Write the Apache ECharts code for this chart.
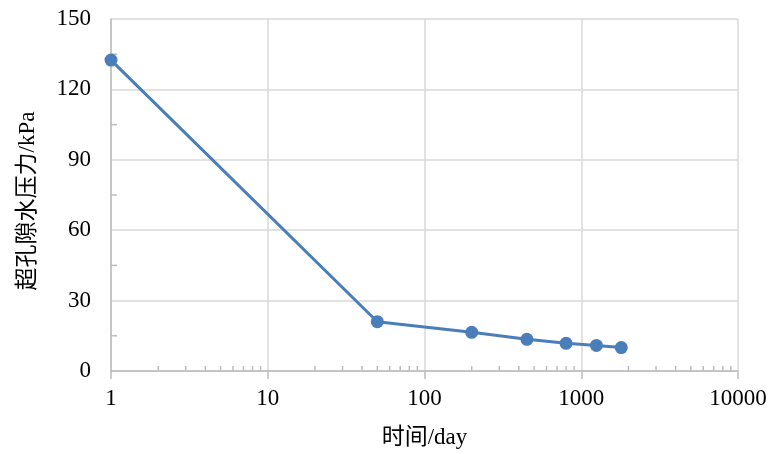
<!DOCTYPE html>
<html>
<head>
<meta charset="utf-8">
<script src="https://cdn.jsdelivr.net/npm/echarts@6/dist/echarts.min.js"></script>
<style>
html,body{margin:0;padding:0;background:#fff;}
#main{width:771px;height:454px;}
</style>
</head>
<body>
<div id="main"></div>
<script>
// 时间 (day) 与 超孔隙水压力 (kPa)
var days = [1, 50, 200, 450, 800, 1250, 1800];
var pressure = [132.5, 21, 16.5, 13.5, 11.8, 10.9, 10];
var minorTickDays = [2,3,4,5,6,7,8,9, 20,30,40,50,60,70,80,90,
  200,300,400,500,600,700,800,900, 2000,3000,4000,5000,6000,7000,8000,9000];
var minorTickKpa = [15, 45, 75, 105, 135];

var font = '"Liberation Serif", "Times New Roman", "Noto Sans CJK SC", serif';
var tickColor = "#bcbcbc";

function tickSeries(data, dx, dy) {
  return {
    type: "custom",
    silent: true,
    clip: false,
    data: data,
    renderItem: function (params, api) {
      var p = api.coord([api.value(0), api.value(1)]);
      return {
        type: "line",
        shape: {x1: p[0], y1: p[1], x2: p[0] + dx, y2: p[1] + dy},
        style: {stroke: tickColor, lineWidth: 1.5}
      };
    },
    z: 3
  };
}

var chart = echarts.init(document.getElementById("main"));
var option = {
  animation: false,
  grid: {left: 111, right: 33, top: 19, bottom: 82, containLabel: false},
  xAxis: {
    type: "log",
    logBase: 10,
    min: 1,
    max: 10000,
    name: "时间/day",
    nameLocation: "middle",
    nameGap: 55,
    nameTextStyle: {fontFamily: font, fontSize: 23, color: "#000"},
    axisLine: {lineStyle: {color: tickColor, width: 1.5}},
    axisTick: {show: true, length: 8, lineStyle: {color: tickColor, width: 1.5}},
    axisLabel: {
      fontFamily: font, fontSize: 23, color: "#000", margin: 16,
      formatter: function (v) { return String(Math.round(v)); }
    },
    splitLine: {show: true, lineStyle: {color: "#d9d9d9", width: 1.5}},
    minorTick: {show: false}
  },
  yAxis: {
    type: "value",
    min: 0,
    max: 150,
    interval: 30,
    name: "超孔隙水压力/kPa",
    nameLocation: "middle",
    nameGap: 72,
    nameTextStyle: {fontFamily: font, fontSize: 23, color: "#000", padding: [0, 12, 0, 0]},
    axisLine: {show: true, lineStyle: {color: tickColor, width: 1.5}},
    axisTick: {show: false},
    axisLabel: {fontFamily: font, fontSize: 23, color: "#000", margin: 20},
    splitLine: {show: true, lineStyle: {color: "#d9d9d9", width: 1.5}}
  },
  series: [
    {
      type: "line",
      data: days.map(function (d, i) { return [d, pressure[i]]; }),
      symbol: "circle",
      symbolSize: 13,
      lineStyle: {color: "#4a7ebb", width: 3},
      itemStyle: {color: "#4a7ebb"},
      z: 5
    },
    tickSeries(minorTickDays.map(function (d) { return [d, 0]; }), 0, -5),
    tickSeries(minorTickKpa.map(function (v) { return [1, v]; }), 6, 0)
  ]
};
chart.setOption(option);
</script>
</body>
</html>
